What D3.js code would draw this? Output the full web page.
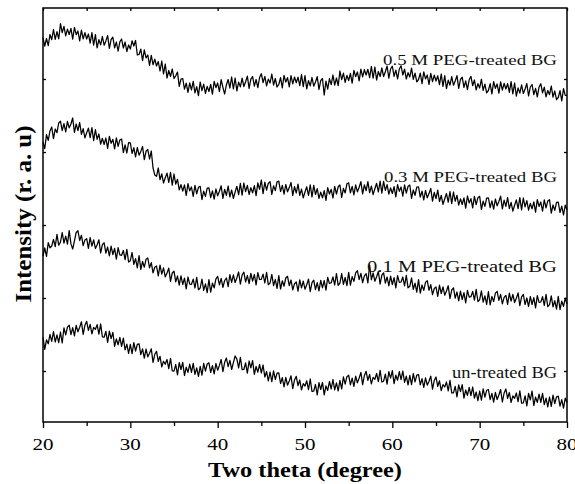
<!DOCTYPE html>
<html><head><meta charset="utf-8">
<script src="https://cdn.jsdelivr.net/npm/d3@7"></script>
<style>body{margin:0;background:#fff}</style></head>
<body><svg id="c" width="575" height="484"></svg>
<script>
// ---- data (2θ from 20° to 80°, step 0.2°) ----
const thetaStart = 20, thetaStep = 0.2;
const xTicks = [20, 30, 40, 50, 60, 70, 80];
const xMinorTicks = [25, 35, 45, 55, 65, 75];
const yTicks = [510, 1240, 1970, 2700, 3430];
const seriesNames = ["0.5 M PEG-treated BG", "0.3 M PEG-treated BG", "0.1 M PEG-treated BG", "un-treated BG"];

const peg05 = [
3845,3758,3835,3763,3875, 3823,3925,3827,3904,3831, 3983,3894,3956,3862,3929, 3875,3937,3829,3946,3873,
3910,3812,3919,3831,3893, 3830,3880,3789,3894,3768, 3873,3741,3824,3772,3855, 3768,3811,3864,3737,3825,
3848,3741,3800,3708,3802, 3830,3740,3800,3705,3770, 3730,3812,3760,3815,3670, 3675,3729,3613,3722,3641,
3670,3566,3667,3573,3629, 3560,3605,3510,3610,3480, 3580,3440,3515,3455,3530, 3435,3462,3499,3356,3428,
3435,3329,3388,3297,3391, 3320,3406,3292,3353,3264, 3400,3314,3378,3287,3356, 3305,3377,3279,3406,3343,
3390,3304,3423,3347,3280, 3370,3425,3340,3450,3330, 3440,3312,3399,3351,3438, 3355,3402,3459,3336,3428,
3455,3358,3425,3343,3445, 3483,3394,3456,3362,3429, 3390,3480,3370,3435,3350, 3375,3444,3342,3466,3399,
3443,3351,3464,3382,3450, 3393,3448,3363,3473,3353, 3463,3331,3414,3362,3445, 3358,3400,3453,3325,3413,
3435,3270,3409,3329,3433, 3373,3470,3368,3440,3363, 3510,3424,3488,3397,3466, 3415,3487,3389,3516,3453,
3500,3412,3529,3451,3523, 3470,3527,3444,3556,3438, 3550,3420,3505,3455,3540, 3455,3503,3560,3438,3530,
3558,3456,3519,3432,3530, 3563,3470,3528,3430,3493, 3450,3538,3426,3489,3402, 3425,3489,3383,3502,3431,
3470,3376,3487,3403,3469, 3410,3462,3373,3480,3356, 3463,3333,3418,3368,3453, 3368,3411,3464,3337,3425,
3448,3347,3411,3324,3423, 3457,3364,3420,3322,3383, 3340,3428,3316,3379,3292, 3315,3383,3281,3404,3337,
3380,3288,3401,3319,3387, 3330,3383,3296,3404,3282, 3390,3258,3341,3289,3372, 3285,3330,3385,3260,3350,
3375,3274,3337,3251,3349, 3383,3291,3349,3252,3315, 3273,3360,3248,3310,3223, 3245,3313,3211,3334,3267,
3265];

const peg03 = [
2800,2734,2873,2817,2911, 2950,2833,2930,2893,2990, 3008,2913,2983,2902,3007, 2942,2980,3040,2897,2980,
2913,2995,2877,2934,2841, 2893,2938,2843,2943,2813, 2923,2826,2880,2778,2837, 2775,2840,2736,2856,2787,
2827,2732,2841,2756,2820, 2830,2693,2772,2690,2794, 2792,2685,2743,2652,2745, 2668,2706,2755,2623,2707,
2725,2630,2710,2540,2470, 2457,2540,2423,2482,2390, 2443,2489,2396,2497,2369, 2480,2379,2427,2321,2374,
2308,2371,2265,2383,2312, 2350,2255,2366,2281,2347, 2357,2225,2308,2256,2339, 2342,2244,2311,2228,2330,
2262,2307,2362,2237,2327, 2267,2360,2252,2320,2237, 2300,2357,2274,2386,2268, 2390,2303,2367,2275,2344,
2292,2363,2264,2391,2327, 2420,2283,2398,2318,2388, 2403,2275,2362,2314,2401, 2408,2305,2366,2278,2375,
2302,2344,2395,2267,2353, 2290,2378,2266,2329,2242, 2300,2352,2265,2372,2250, 2367,2275,2333,2236,2299,
2242,2314,2216,2343,2280, 2327,2240,2357,2280,2352, 2370,2245,2336,2291,2382, 2392,2292,2357,2272,2372,
2302,2348,2404,2281,2372, 2313,2403,2293,2358,2273, 2333,2387,2300,2409,2288, 2407,2316,2374,2278,2341,
2285,2353,2251,2374,2307, 2350,2258,2371,2289,2357, 2370,2237,2320,2267,2350, 2352,2248,2309,2220,2316,
2242,2284,2336,2209,2296, 2233,2319,2205,2266,2177, 2233,2285,2198,2305,2183, 2300,2208,2266,2169,2232,
2175,2242,2138,2260,2191, 2233,2142,2256,2174,2243, 2257,2125,2208,2156,2239, 2242,2144,2211,2128,2230,
2162,2205,2258,2131,2219, 2157,2245,2133,2196,2109, 2167,2221,2134,2243,2121, 2240,2151,2213,2119,2186,
2132,2201,2099,2223,2156, 2200,2109,2222,2141,2209, 2223,2089,2170,2116,2197, 2198,2095,2158,2070,2168,
2120];

const peg01 = [
1658,1741,1655,1793,1742, 1760,1827,1754,1876,1768, 1800,1895,1789,1859,1778, 1913,1781,1730,1812,1895,
1913,1815,1867,1764,1821, 1833,1736,1845,1758,1822, 1735,1773,1822,1690,1774, 1792,1689,1750,1662,1758,
1675,1736,1628,1744,1671, 1667,1715,1623,1727,1600, 1613,1695,1577,1634,1541, 1663,1526,1605,1548,1627,
1640,1542,1594,1491,1548, 1560,1461,1568,1479,1541, 1452,1490,1538,1407,1490, 1508,1401,1460,1368,1462,
1375,1438,1332,1450,1379, 1377,1429,1340,1447,1323, 1340,1429,1317,1381,1294, 1423,1298,1388,1342,1432,
1457,1372,1436,1346,1415, 1440,1354,1473,1397,1471, 1395,1443,1500,1378,1470, 1498,1400,1467,1384,1486,
1408,1475,1372,1493,1425, 1427,1479,1390,1497,1373, 1390,1477,1363,1425,1336, 1463,1330,1412,1358,1440,
1457,1364,1420,1322,1383, 1400,1309,1422,1341,1409, 1328,1373,1428,1303,1393, 1418,1323,1393,1312,1417,
1342,1415,1318,1447,1385, 1393,1451,1370,1483,1367, 1390,1483,1377,1445,1364, 1497,1368,1454,1406,1492,
1513,1425,1487,1394,1461, 1483,1391,1570,1422,1490, 1408,1452,1505,1379,1468, 1492,1389,1450,1362,1458,
1375,1443,1341,1464,1397, 1400,1450,1361,1466,1342, 1357,1442,1327,1388,1298, 1423,1289,1370,1316,1397,
1413,1318,1374,1274,1335, 1350,1257,1368,1285,1351, 1268,1310,1362,1233,1320, 1342,1239,1300,1212,1308,
1225,1294,1192,1316,1249, 1253,1306,1219,1327,1205, 1223,1311,1199,1262,1175, 1303,1172,1255,1204,1288,
1307,1217,1277,1182,1247, 1267,1176,1289,1208,1276, 1195,1238,1291,1164,1252, 1275,1175,1240,1155,1255,
1175,1243,1141,1264,1197, 1200,1254,1167,1276,1154, 1173,1262,1151,1214,1128, 1257,1125,1208,1156,1239,
1180];

const untreated = [
847,727,822,782,877, 807,904,800,872,793, 900,790,942,871,949, 968,873,943,862,967,
902,947,1002,877,967, 1007,917,977,882,947, 927,973,879,981,852, 848,907,796,909,833,
897,757,832,772,847, 757,839,721,778,685, 777,683,794,710,776, 782,674,731,638,730,
652,687,732,597,677, 707,607,657,552,607, 577,625,533,637,510, 508,575,472,593,525,
597,465,548,496,579, 497,587,477,542,457, 557,469,586,508,580, 592,495,563,482,585,
518,566,625,503,597, 640,553,617,525,594, 660,629,540,647,523, 525,592,488,610,541,
613,476,555,498,577, 490,570,450,505,410, 500,403,512,425,489, 492,385,443,352,445,
368,410,462,333,420, 457,364,420,322,383, 360,412,323,430,306, 308,375,272,393,325,
397,272,361,316,405, 330,425,321,391,312, 417,332,452,378,453, 468,371,439,356,459,
392,439,496,373,465, 507,417,477,382,447, 427,485,403,517,400, 408,478,378,503,438,
513,383,468,418,503, 423,510,397,458,370, 467,374,485,402,468, 475,372,433,345,441,
368,408,459,329,415, 450,356,412,313,374, 350,400,311,416,292, 292,357,252,372,303,
373,239,320,266,347, 263,350,238,300,213, 310,218,331,249,317, 325,223,286,199,297,
225,270,325,200,290, 330,237,295,197,260, 237,290,203,311,189, 192,262,162,287,222,
310,165,248,196,279, 197,286,174,238,151, 250,157,268,185,251, 258,158,223,138,238,
195];

const seriesValues = [peg05, peg03, peg01, untreated];

// ---- layout (positions / styles, separate from data) ----
const M = {left: 43, right: 567, top: 8, bottom: 422};
const labelLayout = [
  {y: 65,    size: 15.5, len: 174},
  {y: 181.7, size: 15.5, len: 173},
  {y: 272.3, size: 17.5, len: 190},
  {y: 377.7, size: 16,   len: 105}
];
const FONT = "'Liberation Serif','Times New Roman',serif";

const svg = d3.select("#c");
const x = d3.scaleLinear().domain([20, 80]).range([M.left, M.right]);
const y = d3.scaleLinear().domain([0, 4140]).range([M.bottom, M.top]);

// traces
const line = d3.line()
  .x((d, i) => x(thetaStart + i * thetaStep))
  .y(d => y(d));

svg.append("g").selectAll("path").data(seriesValues).join("path")
  .attr("d", d => line(d))
  .attr("fill", "none")
  .attr("stroke", "#000")
  .attr("stroke-width", 1.25)
  .attr("stroke-linejoin", "round");

// axes
const bottomMajor = d3.axisBottom(x).tickValues(xTicks).tickSize(6).tickFormat("");
const bottomMinor = d3.axisBottom(x).tickValues(xMinorTicks).tickSize(4).tickFormat("");
const topAll = d3.axisTop(x).tickValues(xTicks.concat(xMinorTicks)).tickSize(-3).tickFormat("");
const leftAx = d3.axisLeft(y).tickValues(yTicks).tickSize(-3).tickFormat("");
const rightAx = d3.axisRight(y).tickValues(yTicks).tickSize(-3).tickFormat("");

function styleAxis(g) {
  g.select(".domain").remove();
  g.selectAll(".tick line").attr("stroke", "#000").attr("stroke-width", 1.3);
}
svg.append("g").attr("transform", `translate(0,${M.bottom})`).call(bottomMajor).call(styleAxis);
svg.append("g").attr("transform", `translate(0,${M.bottom})`).call(bottomMinor).call(styleAxis);
svg.append("g").attr("transform", `translate(0,${M.top})`).call(topAll).call(styleAxis);
svg.append("g").attr("transform", `translate(${M.left},0)`).call(leftAx).call(styleAxis);
svg.append("g").attr("transform", `translate(${M.right},0)`).call(rightAx).call(styleAxis);

// frame
svg.append("rect")
  .attr("x", M.left).attr("y", M.top)
  .attr("width", M.right - M.left).attr("height", M.bottom - M.top)
  .attr("fill", "none").attr("stroke", "#000").attr("stroke-width", 1.5);

// tick labels
svg.append("g").selectAll("text").data(xTicks).join("text")
  .attr("x", d => x(d)).attr("y", 450)
  .attr("text-anchor", "middle")
  .attr("font-family", FONT).attr("font-size", 17)
  .attr("textLength", 21).attr("lengthAdjust", "spacingAndGlyphs")
  .text(d => d);

// series labels
svg.append("g").selectAll("text").data(seriesNames).join("text")
  .attr("x", 557).attr("y", (d, i) => labelLayout[i].y)
  .attr("text-anchor", "end")
  .attr("font-family", FONT)
  .attr("font-size", (d, i) => labelLayout[i].size)
  .attr("textLength", (d, i) => labelLayout[i].len)
  .attr("lengthAdjust", "spacingAndGlyphs")
  .attr("fill", "#111")
  .text(d => d);

// axis titles
svg.append("text")
  .attr("x", 305).attr("y", 477)
  .attr("text-anchor", "middle")
  .attr("font-family", FONT).attr("font-weight", "bold").attr("font-size", 22)
  .attr("textLength", 194).attr("lengthAdjust", "spacingAndGlyphs")
  .text("Two theta (degree)");

svg.append("text")
  .attr("transform", "translate(31,214) rotate(-90)")
  .attr("text-anchor", "middle")
  .attr("font-family", FONT).attr("font-weight", "bold").attr("font-size", 23)
  .attr("textLength", 177).attr("lengthAdjust", "spacingAndGlyphs")
  .text("Intensity (r. a. u)");
</script></body></html>
